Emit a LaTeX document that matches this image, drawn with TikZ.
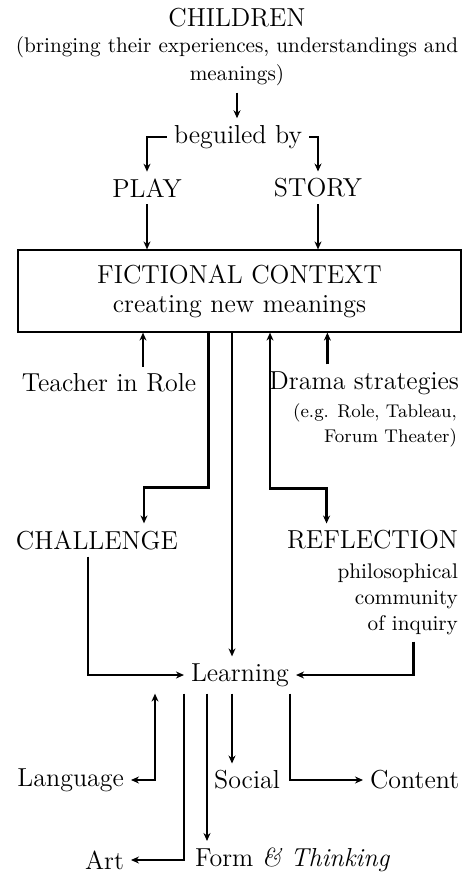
\documentclass[tikz,border=0pt]{standalone}
\usepackage{tikz}
\usetikzlibrary{arrows.meta,calc}

\begin{document}
\begin{tikzpicture}[x=0.5pt,y=-0.5pt,
  big/.style={font=\fontsize{13}{14.5}\selectfont},
  mid/.style={font=\fontsize{10.6}{13}\selectfont},
  arr/.style={line width=1.4pt,-{Stealth[length=4pt,width=3.5pt]}},
  twoarr/.style={line width=1.4pt,{Stealth[length=4pt,width=3.5pt]}-{Stealth[length=4pt,width=3.5pt]}}]
  \useasboundingbox (0,0) rectangle (475,873);

  % top part
  \node[big] (children) at (237,18) {CHILDREN};
  \node[mid, align=center] (bringing) at (237,61)
    {(bringing their experiences, understandings and\\[1pt] meanings)};
  \node[big] (beguiled) at (238,137) {beguiled by};
  \node[big] (play) at (147,188) {PLAY};
  \node[big] (story) at (318,188) {STORY};
  \node[draw, line width=0.6pt, minimum width=221.5pt, minimum height=41pt,
    align=center, big] (context) at (239.5,291)
    {FICTIONAL CONTEXT\\ creating new meanings};

  \draw[arr] (bringing.south) -- (bringing.south |- beguiled.north);
  \draw[arr] (beguiled.west) -| (play.north);
  \draw[arr] (beguiled.east) -| (story.north);
  \draw[arr] (play.south) -- (play.south |- context.north);
  \draw[arr] (story.south) -- (story.south |- context.north);

  % what feeds into the context
  \node[big] (teacher) at (109,383) {Teacher in Role};
  \node[big, anchor=east] (drama) at (466,383) {Drama strategies};
  \node[align=right, anchor=east, font=\fontsize{9.2}{12.5}\selectfont] (dramaeg) at (464,425)
    {(e.g. Role, Tableau,\\ Forum Theater)};

  \coordinate (tr) at ([xshift=17pt]teacher.north);
  \coordinate (ds) at ([xshift=32.5pt]drama.north west);
  \draw[arr] (tr) -- (tr |- context.south);
  \draw[arr] (ds) -- (ds |- context.south);

  % middle part
  \node[big] (challenge) at (97,540) {CHALLENGE};
  \node[big, anchor=east] (reflection) at (465,540) {REFLECTION};
  \node[mid, align=right, anchor=north east] (inquiry) at (reflection.south east)
    {philosophical\\ community\\ of inquiry};
  \node[big] (learning) at (240,675) {Learning};

  \coordinate (mid) at ([xshift=-3.75pt]context.south);
  \draw[arr] ([xshift=-15.5pt]context.south) -- ++(0,155) -| ([xshift=23.5pt]challenge.north);
  \draw[twoarr] ([xshift=15.25pt]context.south) -- ++(0,156) -| ([xshift=-23pt]reflection.north);
  \draw[arr] (mid) -- (mid |- learning.north);
  \draw[arr] ([xshift=-4.5pt]challenge.south) |- (learning.west);
  \draw[arr] ([xshift=8pt]inquiry.south) |- (learning.east);

  % bottom part
  \node[big, anchor=east] (language) at (131,780) {Language};
  \node[big] (social) at (247,780) {Social};
  \node[big, anchor=west] (content) at (363,780) {Content};
  \node[big, anchor=east] (art) at (131,860) {Art};
  \node[big, anchor=west] (form) at (188,860) {Form \textit{\& Thinking}};

  \coordinate (fm) at ([xshift=-16.5pt]learning.south);
  \coordinate (sc) at ([xshift=-4pt]learning.south);
  \draw[twoarr] ([xshift=-42.5pt]learning.south) |- (language.east);
  \draw[arr] ([xshift=-28pt]learning.south) |- (art.east);
  \draw[arr] (fm) -- (fm |- form.north);
  \draw[arr] (sc) -- (sc |- social.north);
  \draw[arr] ([xshift=25pt]learning.south) |- (content.west);
\end{tikzpicture}
\end{document}
